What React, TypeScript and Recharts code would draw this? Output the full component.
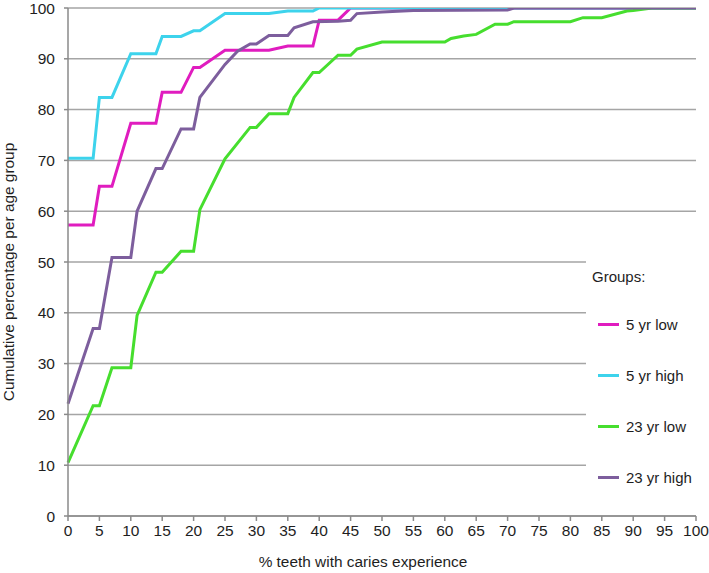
import React from 'react'
import { LineChart, Line, XAxis, YAxis, CartesianGrid } from 'recharts'

// x = % teeth with caries, y = cumulative %
const low5X = [0, 4, 5, 7, 10, 14, 15, 18, 20, 21, 25, 32, 35, 39, 40, 43, 45, 100]
const low5Y = [57.3, 57.3, 64.9, 64.9, 77.3, 77.3, 83.4, 83.4, 88.3, 88.3, 91.7, 91.7, 92.5, 92.5, 97.6, 97.6, 100, 100]

const high5X = [0, 4, 5, 7, 10, 14, 15, 18, 20, 21, 25, 32, 35, 39, 40, 100]
const high5Y = [70.4, 70.4, 82.4, 82.4, 91, 91, 94.4, 94.4, 95.5, 95.5, 98.9, 98.9, 99.4, 99.4, 100, 100]

const low23X = [0, 4, 5, 7, 10, 11, 14, 15, 18, 20, 21, 25, 29, 30, 32, 35, 36, 39, 40, 43, 45, 46, 50, 60, 61, 63, 65, 68, 70, 71, 80, 82, 85, 89, 90, 93, 100]
const low23Y = [10.5, 21.7, 21.7, 29.2, 29.2, 39.5, 48, 48, 52.1, 52.1, 60.3, 70.3, 76.5, 76.5, 79.2, 79.2, 82.4, 87.3, 87.3, 90.7, 90.7, 91.9, 93.3, 93.3, 94, 94.5, 94.8, 96.8, 96.8, 97.3, 97.3, 98.1, 98.1, 99.4, 99.5, 100, 100]

const high23X = [0, 4, 5, 7, 10, 11, 14, 15, 18, 20, 21, 25, 27, 29, 30, 32, 35, 36, 39, 43, 45, 46, 50, 55, 70, 71, 100]
const high23Y = [22.1, 36.9, 36.9, 50.9, 50.9, 60, 68.4, 68.4, 76.2, 76.2, 82.4, 88.9, 91.5, 92.9, 92.9, 94.6, 94.6, 96.1, 97.3, 97.4, 97.6, 98.9, 99.2, 99.5, 99.6, 100, 100]

const xTicks = [0, 5, 10, 15, 20, 25, 30, 35, 40, 45, 50, 55, 60, 65, 70, 75, 80, 85, 90, 95, 100]
const yTicks = [0, 10, 20, 30, 40, 50, 60, 70, 80, 90, 100]

const toPoints = (xs: number[], ys: number[]) => xs.map((x, i) => ({ x, y: ys[i] }))

const series = [
  { name: '5 yr low', color: '#e01cbf', data: toPoints(low5X, low5Y) },
  { name: '5 yr high', color: '#3dd3ec', data: toPoints(high5X, high5Y) },
  { name: '23 yr low', color: '#46de2e', data: toPoints(low23X, low23Y) },
  { name: '23 yr high', color: '#7d5e9d', data: toPoints(high23X, high23Y) },
]

const FONT = '"Liberation Sans", Arial, sans-serif'
const AXIS = '#8a8a8a'
const tickStyle = { fontSize: 15.5, fill: '#1e1e1e', fontFamily: FONT }

export default function App() {
  return (
    <div style={{ position: 'absolute', left: 0, top: 0, width: 709, height: 573, background: '#fff', fontFamily: FONT }}>
      <LineChart width={709} height={573} margin={{ top: 8, right: 13, left: 0, bottom: 27 }}>
        <CartesianGrid vertical={false} stroke="#a5a5a5" strokeWidth={1.5} />
        <XAxis
          type="number"
          dataKey="x"
          domain={[0, 100]}
          ticks={xTicks}
          interval={0}
          height={30}
          tickSize={5}
          tickMargin={4}
          stroke={AXIS}
          strokeWidth={1.5}
          tick={tickStyle}
          allowDuplicatedCategory={false}
          label={{
            content: () => (
              <text x={363} y={567} textAnchor="middle" fontSize={15.4} fill="#1e1e1e" fontFamily={FONT}>
                % teeth with caries experience
              </text>
            ),
          }}
        />
        <YAxis
          type="number"
          domain={[0, 100]}
          ticks={yTicks}
          interval={0}
          width={68}
          tickSize={4}
          tickMargin={9}
          stroke={AXIS}
          strokeWidth={1.5}
          tick={tickStyle}
          allowDataOverflow
          label={{
            content: () => (
              <text x={14} y={272} transform="rotate(-90 14 272)" textAnchor="middle" fontSize={15.4} fill="#1e1e1e" fontFamily={FONT}>
                Cumulative percentage per age group
              </text>
            ),
          }}
        />
        {series.map((s) => (
          <Line
            key={s.name}
            data={s.data}
            dataKey="y"
            name={s.name}
            type="linear"
            stroke={s.color}
            strokeWidth={3}
            dot={false}
            activeDot={false}
            isAnimationActive={false}
          />
        ))}
      </LineChart>
      <div style={{ position: 'absolute', left: 586, top: 228, width: 115, height: 282, background: '#fff' }}>
        <div style={{ position: 'absolute', left: 6, top: 40, fontSize: 15, color: '#1e1e1e', lineHeight: '18px' }}>Groups:</div>
        {series.map((s, i) => (
          <div key={s.name} style={{ position: 'absolute', left: 12, top: 87 + i * 51.3, display: 'flex', alignItems: 'center', height: 18, whiteSpace: 'nowrap' }}>
            <span style={{ display: 'inline-block', width: 21, height: 3, background: s.color, marginRight: 7 }} />
            <span style={{ fontSize: 15, color: '#1e1e1e' }}>{s.name}</span>
          </div>
        ))}
      </div>
    </div>
  )
}
